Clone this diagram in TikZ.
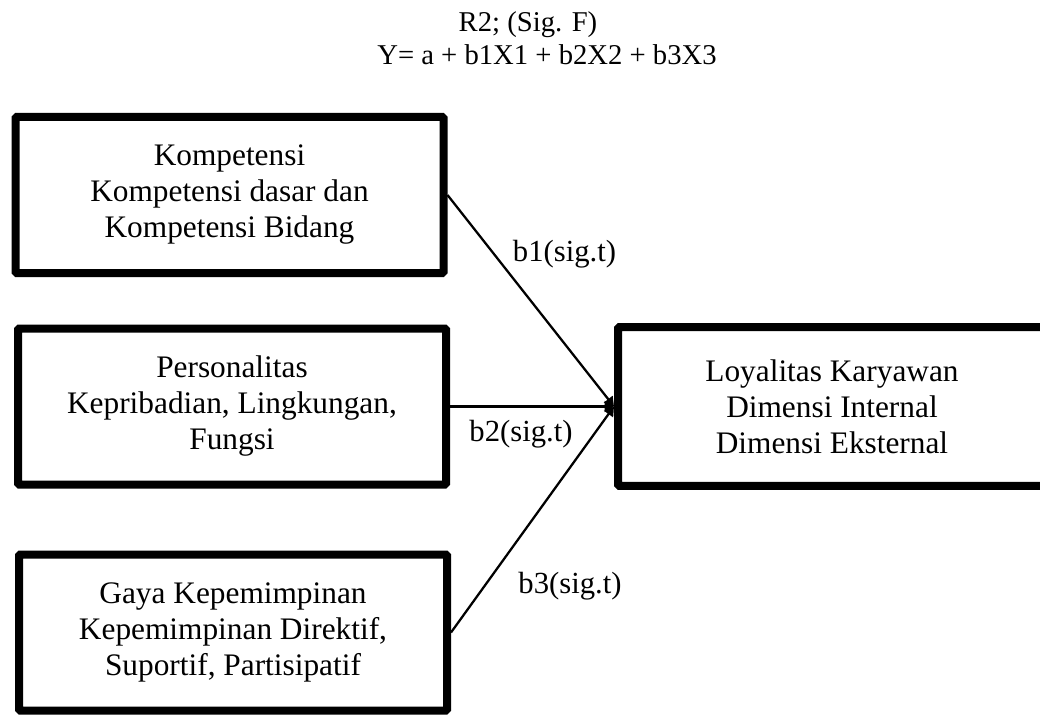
\documentclass[tikz,border=0pt]{standalone}
\usepackage{fontspec}
\setmainfont{Liberation Serif}
\usetikzlibrary{arrows.meta}
\tikzset{
  varbox/.style={draw, line width=6pt, rounded corners=1pt, minimum width=321pt, minimum height=117pt, align=center, font=\fontsize{23.5}{27}\selectfont},
  link/.style={line width=1.7pt, -{Triangle[length=7pt,width=8pt]}},
  coef/.style={font=\fontsize{23}{26}\selectfont},
  eqtext/.style={font=\fontsize{21.5}{24}\selectfont}
}

\begin{document}
\begin{tikzpicture}[x=0.75pt, y=-0.75pt]
		%%%%% START %%%%%
		\useasboundingbox (0, 0) rectangle (1040, 717);
		
		% model
		\node[eqtext] (rsq) at (528, 25) {R2; (Sig. F)};
		\node[eqtext] (eq) at (547, 55) {Y= a + b1X1 + b2X2 + b3X3};
		
		% variabel bebas
		\node[varbox] (komp) at (229.5, 195) {Kompetensi\\Kompetensi dasar dan\\Kompetensi Bidang};
		\node[varbox] (pers) at (232, 406.5) {Personalitas\\Kepribadian, Lingkungan,\\Fungsi};
		\node[varbox] (gaya) at (233, 632.5) {Gaya Kepemimpinan\\Kepemimpinan Direktif,\\Suportif, Partisipatif};
		
		% variabel terikat
		\node[varbox, minimum height=119pt] (loy) at (832, 406.5) {Loyalitas Karyawan\\Dimensi Internal\\Dimensi Eksternal};
		
		\draw[link] (komp.east) -- (loy.west);
		\draw[link] (pers.east) -- (loy.west);
		\draw[link] (gaya.east) -- (loy.west);
		
		\node[coef] (b1) at (564.5, 254) {b1(sig.t)};
		\node[coef] (b2) at (521, 434) {b2(sig.t)};
		\node[coef] (b3) at (570, 586) {b3(sig.t)};
		
		%%%%% END %%%%%
	\end{tikzpicture}
\end{document}
